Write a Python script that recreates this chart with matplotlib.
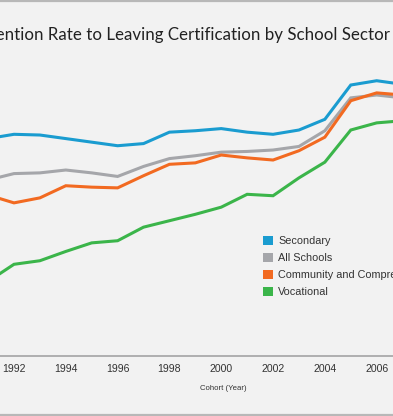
import matplotlib.pyplot as plt
from matplotlib.patches import Patch
from matplotlib.lines import Line2D

# cohort years (1991 and 2007 run off the cropped edges)
years = list(range(1991, 2008))
tick_years = [1992, 1994, 1996, 1998, 2000, 2002, 2004, 2006]

secondary = [83.9, 84.5, 84.4, 83.9, 83.4, 82.9, 83.2, 84.8, 85.0, 85.3,
             84.8, 84.5, 85.1, 86.6, 91.4, 92.0, 91.5]
all_schools = [78.1, 79.0, 79.1, 79.5, 79.1, 78.6, 80.0, 81.1, 81.5, 82.0,
               82.1, 82.3, 82.8, 85.0, 89.6, 90.0, 89.6]
community = [76.0, 74.9, 75.6, 77.3, 77.1, 77.0, 78.7, 80.3, 80.5, 81.6,
             81.2, 80.9, 82.2, 84.1, 89.2, 90.3, 90.0]
vocational = [63.9, 66.3, 66.8, 68.1, 69.3, 69.6, 71.5, 72.4, 73.3, 74.3,
              76.1, 75.9, 78.4, 80.6, 85.1, 86.1, 86.4]

labels = ["Secondary", "All Schools", "Community and Comprehensive", "Vocational"]
colors = ["#1a9cd0", "#a5a6aa", "#f26a21", "#3bb54a"]

BG = "#f2f2f2"

fig = plt.figure(figsize=(3.93, 4.16), dpi=100, facecolor=BG)
ax = fig.add_axes([0, 0.1442, 1, 0.7596])
ax.set_facecolor(BG)

series = [secondary, all_schools, community, vocational]
order = [1, 3, 2, 0]  # drawing order, orange over gray
for i in order:
    ax.plot(years, series[i], color=colors[i], lw=2.2, solid_joinstyle="miter",
            zorder=3 + order.index(i))

ax.set_xlim(1991.46, 2006.63)
ax.set_ylim(53.46, 97.7)

for s in ["top", "left", "right"]:
    ax.spines[s].set_visible(False)
ax.spines["bottom"].set_color("#a9a9ab")
ax.spines["bottom"].set_linewidth(1.3)
ax.set_yticks([])
ax.set_xticks(tick_years)
ax.set_xticklabels([str(y) for y in tick_years], fontsize=7.6,
                   family=["Liberation Sans", "DejaVu Sans"], color="#333333")
ax.tick_params(axis="x", length=0, pad=5.5)

fig.text(223 / 393, 1 - 388 / 416, "Cohort (Year)", ha="center", va="center",
         fontsize=5.6, family=["Liberation Sans Narrow", "Liberation Sans"],
         color="#333333")

# title is cropped on the left in the reference
fig.text(390 / 393, 1 - 40 / 416,
         "Retention Rate to Leaving Certification by School Sector",
         ha="right", va="baseline", fontsize=12.2, family=["Lato", "DejaVu Sans"],
         color="#222222")

handles = [Patch(facecolor=c, edgecolor="none") for c in colors]
fig.legend(handles, labels, loc="upper left", bbox_to_anchor=(263 / 393, 1 - 236 / 416),
           frameon=False, handlelength=0.9, handleheight=0.9,
           handletextpad=0.5, labelspacing=0.62, borderpad=0, borderaxespad=0,
           prop={"family": ["Liberation Sans", "DejaVu Sans"], "size": 7.8},
           labelcolor="#333333")

# frame rules at top and bottom of the panel
fig.add_artist(Line2D([0, 1], [1 - 1 / 416, 1 - 1 / 416], color="#b8b8b8", lw=1.6))
fig.add_artist(Line2D([0, 1], [1 - 414.5 / 416, 1 - 414.5 / 416], color="#b8b8b8", lw=1.6))

fig.savefig("out.png", dpi=100, facecolor=BG)
